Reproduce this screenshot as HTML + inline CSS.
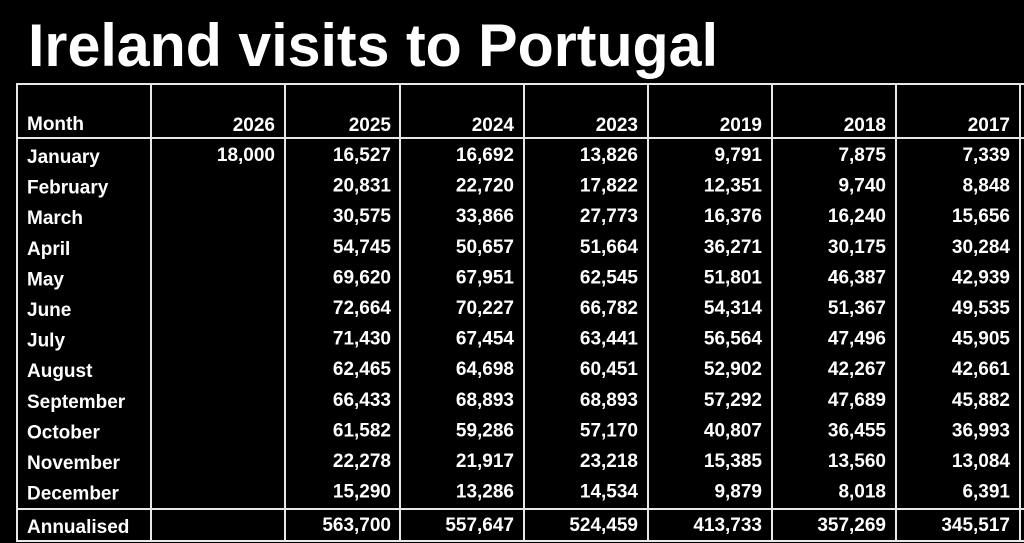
<!DOCTYPE html>
<html><head><meta charset="utf-8"><style>html,body{margin:0;padding:0;background:#000;}svg{display:block}</style></head>
<body>
<svg width="1024" height="543" viewBox="0 0 1024 543" xmlns="http://www.w3.org/2000/svg" font-family="Liberation Sans, sans-serif" font-weight="bold" fill="#fff">
<rect width="1024" height="543" fill="#000"/>
<text x="28" y="66" font-size="60" textLength="690" lengthAdjust="spacingAndGlyphs">Ireland visits to Portugal</text>
<g stroke="#e8e8e8" stroke-width="2" fill="none">
<line x1="16" y1="84" x2="1024" y2="84"/>
<line x1="16" y1="138" x2="1024" y2="138"/>
<line x1="16" y1="509" x2="1024" y2="509"/>
<line x1="16" y1="541" x2="1024" y2="541"/>
<line x1="17" y1="84" x2="17" y2="541"/>
<line x1="151" y1="84" x2="151" y2="541"/>
<line x1="285" y1="84" x2="285" y2="541"/>
<line x1="400" y1="84" x2="400" y2="541"/>
<line x1="524" y1="84" x2="524" y2="541"/>
<line x1="648" y1="84" x2="648" y2="541"/>
<line x1="772" y1="84" x2="772" y2="541"/>
<line x1="896" y1="84" x2="896" y2="541"/>
<line x1="1020" y1="84" x2="1020" y2="541"/>
</g>
<g font-size="19">
<text x="27" y="130">Month</text>
<g text-anchor="end">
<text x="275" y="131">2026</text><text x="391" y="131">2025</text><text x="514" y="131">2024</text><text x="638" y="131">2023</text><text x="762" y="131">2019</text><text x="886" y="131">2018</text><text x="1010" y="131">2017</text>
</g>
<g>
<text x="27" y="163">January</text>
<text x="27" y="193.6">February</text>
<text x="27" y="224.2">March</text>
<text x="27" y="254.8">April</text>
<text x="27" y="285.4">May</text>
<text x="27" y="316">June</text>
<text x="27" y="346.6">July</text>
<text x="27" y="377.2">August</text>
<text x="27" y="407.8">September</text>
<text x="27" y="438.4">October</text>
<text x="27" y="469">November</text>
<text x="27" y="499.6">December</text>
<text x="27" y="533">Annualised</text>
</g>
<g text-anchor="end">
<text x="275" y="161">18,000</text>
<!-- 2025 -->
<g transform="translate(391,0)">
<text y="161">16,527</text><text y="191.6">20,831</text><text y="222.2">30,575</text><text y="252.8">54,745</text><text y="283.4">69,620</text><text y="314">72,664</text><text y="344.6">71,430</text><text y="375.2">62,465</text><text y="405.8">66,433</text><text y="436.4">61,582</text><text y="467">22,278</text><text y="497.6">15,290</text><text y="531">563,700</text>
</g>
<g transform="translate(514,0)">
<text y="161">16,692</text><text y="191.6">22,720</text><text y="222.2">33,866</text><text y="252.8">50,657</text><text y="283.4">67,951</text><text y="314">70,227</text><text y="344.6">67,454</text><text y="375.2">64,698</text><text y="405.8">68,893</text><text y="436.4">59,286</text><text y="467">21,917</text><text y="497.6">13,286</text><text y="531">557,647</text>
</g>
<g transform="translate(638,0)">
<text y="161">13,826</text><text y="191.6">17,822</text><text y="222.2">27,773</text><text y="252.8">51,664</text><text y="283.4">62,545</text><text y="314">66,782</text><text y="344.6">63,441</text><text y="375.2">60,451</text><text y="405.8">68,893</text><text y="436.4">57,170</text><text y="467">23,218</text><text y="497.6">14,534</text><text y="531">524,459</text>
</g>
<g transform="translate(762,0)">
<text y="161">9,791</text><text y="191.6">12,351</text><text y="222.2">16,376</text><text y="252.8">36,271</text><text y="283.4">51,801</text><text y="314">54,314</text><text y="344.6">56,564</text><text y="375.2">52,902</text><text y="405.8">57,292</text><text y="436.4">40,807</text><text y="467">15,385</text><text y="497.6">9,879</text><text y="531">413,733</text>
</g>
<g transform="translate(886,0)">
<text y="161">7,875</text><text y="191.6">9,740</text><text y="222.2">16,240</text><text y="252.8">30,175</text><text y="283.4">46,387</text><text y="314">51,367</text><text y="344.6">47,496</text><text y="375.2">42,267</text><text y="405.8">47,689</text><text y="436.4">36,455</text><text y="467">13,560</text><text y="497.6">8,018</text><text y="531">357,269</text>
</g>
<g transform="translate(1010,0)">
<text y="161">7,339</text><text y="191.6">8,848</text><text y="222.2">15,656</text><text y="252.8">30,284</text><text y="283.4">42,939</text><text y="314">49,535</text><text y="344.6">45,905</text><text y="375.2">42,661</text><text y="405.8">45,882</text><text y="436.4">36,993</text><text y="467">13,084</text><text y="497.6">6,391</text><text y="531">345,517</text>
</g>
</g>
</g>
</svg>
</body></html>
